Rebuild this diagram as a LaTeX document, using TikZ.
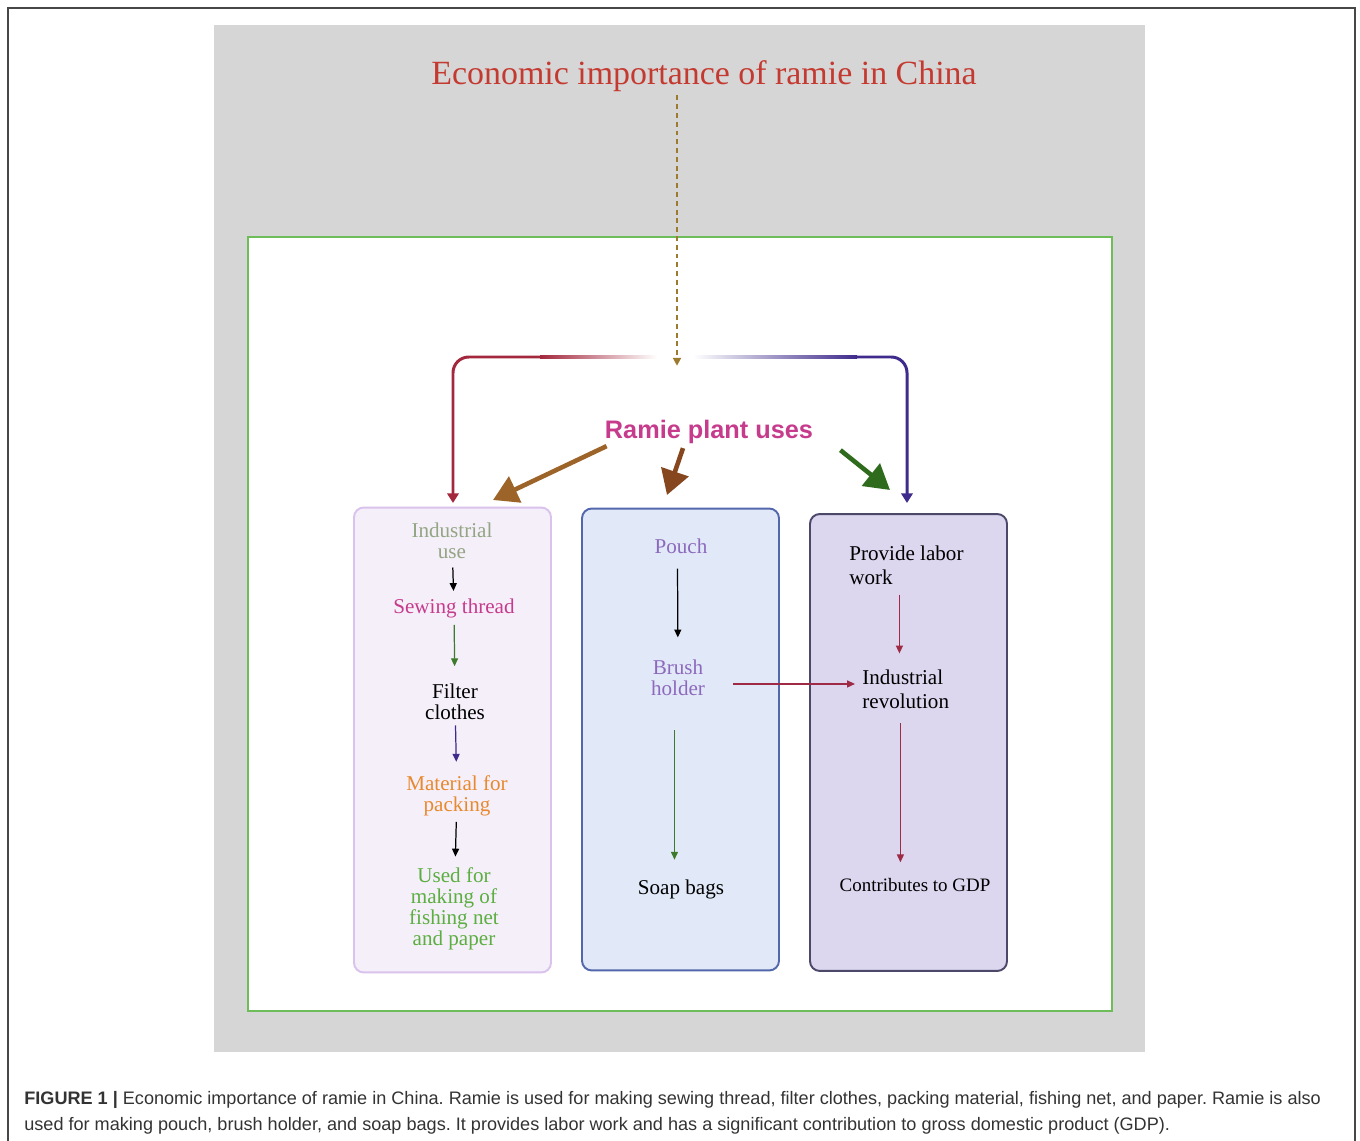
\documentclass[tikz,border=0pt]{standalone}
\usepackage{fontspec}
\setmainfont{Liberation Serif}
\newfontfamily\plainsans{Liberation Sans}
\usepackage{xcolor}
\usetikzlibrary{arrows.meta,positioning,calc}

\definecolor{titlered}{HTML}{C43A31}
\definecolor{dashgold}{HTML}{9C7B2E}
\definecolor{forkred}{HTML}{A3283D}
\definecolor{forkblue}{HTML}{3F2B8C}
\definecolor{usesmag}{HTML}{C73B8C}
\definecolor{brownA}{HTML}{9C6428}
\definecolor{brownB}{HTML}{86471F}
\definecolor{greenbig}{HTML}{2F6B1C}
\definecolor{panelgray}{HTML}{D6D6D6}
\definecolor{framegreen}{HTML}{6DBE5B}
\definecolor{lfill}{HTML}{F5EFFA}
\definecolor{ldraw}{HTML}{D9C2EC}
\definecolor{mfill}{HTML}{E1E9F8}
\definecolor{mdraw}{HTML}{5367AC}
\definecolor{rfill}{HTML}{DCD6EF}
\definecolor{rdraw}{HTML}{4B4869}
\definecolor{sagegray}{HTML}{93A584}
\definecolor{stepgreen}{HTML}{3E7A2B}
\definecolor{packorange}{HTML}{E8892D}
\definecolor{netgreen}{HTML}{5BAE3F}
\definecolor{pouchpurple}{HTML}{8C69BD}
\definecolor{gdpred}{HTML}{9E2A45}
\definecolor{captiongray}{HTML}{333333}

\begin{document}
\begin{tikzpicture}[
    x=0.02cm, y=-0.02cm,
    colbox/.style={rounded corners=5.5pt, line width=1.1pt, minimum width=3.94cm},
    txt/.style={font=\fontsize{12}{11.9}\selectfont, align=center, inner sep=2pt},
    txtwide/.style={font=\fontsize{12}{13.6}\selectfont, align=left, inner sep=2pt},
    tarrow/.style={-{Triangle[length=4.5pt,width=4pt]}, line width=0.7pt},
    bigarrow/.style={-{Triangle[length=14pt,width=16pt]}, line width=2.6pt},
    forkarrow/.style={-{Triangle[length=5.5pt,width=6.5pt]}, line width=1.7pt, rounded corners=9pt},
    dasharrow/.style={-{Triangle[length=4.5pt,width=4.5pt]}, line width=1.1pt, dash pattern=on 2.8pt off 2.2pt}
]
\useasboundingbox (0,0) rectangle (1360,1141);

% frame and panels
\draw[captiongray!90, line width=0.8pt] (8,1141) -- (8,8) -- (1355,8) -- (1355,1141);
\fill[panelgray] (214,25) rectangle (1145,1052);
\draw[framegreen, fill=white, line width=0.6pt] (248,237) rectangle (1112,1011);

% title and fork
\node[font=\fontsize{19.3}{20}\selectfont, text=titlered, inner sep=2pt] (title) at (704,76) {Economic importance of ramie in China};
\coordinate (fork) at (677,357);
\coordinate (tipIndL) at (453,503);
\coordinate (tipIndR) at (907,503);
\shade[left color=forkred, right color=white] (540,355.5) rectangle (657,358.5);
\shade[left color=white, right color=forkblue] (693,355.5) rectangle (857,358.5);
\draw[forkarrow, forkred] (540,357) -- (tipIndL |- fork) -- (tipIndL);
\draw[forkarrow, forkblue] (857,357) -- (tipIndR |- fork) -- (tipIndR);
\draw[dasharrow, dashgold] (title.south -| fork) -- ([yshift=-5pt]fork);

% three columns
\node[colbox, draw=ldraw, fill=lfill, minimum height=9.3cm] (lbox) at (452.5,740) {};
\node[colbox, draw=mdraw, fill=mfill, minimum height=9.24cm] (mbox) at (680.5,739.5) {};
\node[colbox, draw=rdraw, fill=rfill, minimum height=9.14cm] (rbox) at (908.5,742.5) {};

\node[font=\plainsans\bfseries\fontsize{14.4}{15}\selectfont, text=usesmag, inner sep=0pt] (uses) at (709,432) {Ramie plant uses};
\coordinate (tipL) at (493,500);
\coordinate (tipM) at (667,495);
\coordinate (tipR) at (890,490);
\draw[bigarrow, brownA] ([shift={(2,2)}]uses.south west) -- (tipL);
\draw[bigarrow, brownB] ([shift={(-26,4)}]uses.south) -- (tipM);
\draw[bigarrow, greenbig] ([shift={(27,6)}]uses.south east) -- (tipR);

% left column
\node[txt, text=sagegray] (induse) at (452,540.5) {Industrial\\use};
\node[txt, text=usesmag] (sewing) at (454,608) {Sewing thread};
\node[txt] (filter) at (455,702) {Filter\\clothes};
\node[txt, text=packorange] (packing) at (457,795.5) {Material for\\packing};
\node[txt, text=netgreen] (fishing) at (454,908.5) {Used for\\making of\\fishing net\\and paper};
\draw[tarrow, shorten <=3pt, shorten >=2pt] (induse) -- (sewing);
\draw[tarrow, stepgreen, shorten <=2pt, shorten >=8pt] (sewing) -- (filter);
\draw[tarrow, forkblue, shorten <=1pt, shorten >=5.5pt] (filter) -- (packing);
\draw[tarrow, shorten <=1.3pt, shorten >=4pt] (packing) -- (fishing);

% middle column
\node[txt, text=pouchpurple] (pouch) at (681,546) {Pouch};
\node[txt, text=pouchpurple] (brush) at (678,678) {Brush\\holder};
\node[txt] (soap) at (681,889) {Soap bags};
\draw[tarrow, shorten <=6.5pt, shorten >=10.7pt] ([xshift=-2pt]pouch.south) -- (brush);
\draw[tarrow, stepgreen, shorten <=17.3pt, shorten >=9pt] ([xshift=-2pt]brush.south) -- ([xshift=-2pt]brush.south |- soap.north);

% right column
\node[txtwide, anchor=west] (labor) at (845.5,565) {Provide labor\\work};
\node[txtwide, anchor=west] (indrev) at (858.5,689) {Industrial\\revolution};
\node[font=\fontsize{10.8}{11}\selectfont, inner sep=2pt] (gdp) at (915,885.5) {Contributes to GDP};
\draw[tarrow, gdpred, shorten <=3.6pt, shorten >=7pt] ([xshift=-4pt]labor.south) -- ([xshift=-4pt]labor.south |- indrev.north);
\draw[tarrow, gdpred, shorten <=6.4pt, shorten >=7.2pt] ([xshift=-3pt]indrev.south) -- ([xshift=-3pt]indrev.south |- gdp.north);
\draw[tarrow, gdpred, shorten <=14pt, shorten >=2pt] ([yshift=-3.4pt]brush.east) -- ([yshift=-3.4pt]brush.east -| indrev.west);

% caption
\node[anchor=north west, align=left, inner sep=0pt, text=captiongray, font=\plainsans\fontsize{10.3}{14.7}\selectfont\frenchspacing] (caption) at (24,1091)
  {\textbf{FIGURE 1 |} Economic importance of ramie in China. Ramie is used for making sewing thread, filter clothes, packing material, fishing net, and paper. Ramie is also\\
   used for making pouch, brush holder, and soap bags. It provides labor work and has a significant contribution to gross domestic product (GDP).};
\end{tikzpicture}
\end{document}
